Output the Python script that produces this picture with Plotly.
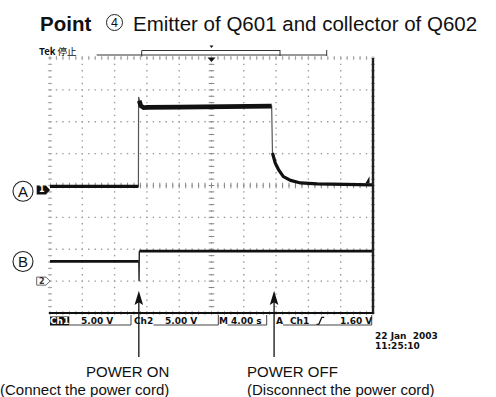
import plotly.graph_objects as go

# ---- waveform data (time in seconds, level in volts) ----
ch1_t = [0.0, 10.95, 10.97, 11.05, 11.25, 11.6, 12.0, 16.0, 20.0, 24.0, 27.45,
         27.55, 27.9, 28.3, 28.9, 29.8, 31.0, 33.1, 36.0, 39.9]
ch1_v = [0.55, 0.55, 14.6, 14.0, 13.2, 12.9, 12.95, 13.0, 13.05, 13.1, 13.15,
         5.8, 4.2, 3.2, 2.1, 1.5, 1.1, 0.95, 0.85, 0.8]

ch2_t = [0.0, 11.0, 11.03, 11.06, 39.9]
ch2_v = [3.1, 3.1, 0.0, 4.7, 4.7]

# scope settings
volts_per_div = [5.0, 5.0]
ch_position = [-0.14, -3.0]      # ground position in divisions
sec_per_div = 4.0
trigger_level = 1.60
power_on_t = 11.0
power_off_t = 27.75

# status-bar labels
status_ch1 = "5.00 V"
status_ch2 = "5.00 V"
status_time = "4.00 s"
status_trig = "1.60 V"
date_lines = ["22 Jan  2003", "11:25:10"]

# ---- layout geometry (pixels) ----
FW, FH = 496, 397
L, T, W, H = 50, 58, 323, 255


def px(x):
    return (x - L) / W


def py(y):
    return (T + H - y) / H


def div_y(ch, v):
    return v / volts_per_div[ch] + ch_position[ch]


def t_paper(t):
    return t / (10 * sec_per_div)


fig = go.Figure()

# ---- graticule ----
GRID = "#9a9a9a"
gx, gy = [], []
for i in range(10):
    for k in range(41):
        gx.append(i * sec_per_div)
        gy.append(-4 + k * 0.2)
for j in range(1, 9):
    for k in range(50):
        gx.append(k * 0.2 * sec_per_div)
        gy.append(-4 + j)
fig.add_trace(go.Scatter(x=gx, y=gy, mode="markers", cliponaxis=False,
                         marker=dict(symbol="square", size=1.4, color=GRID,
                                     line=dict(width=0)),
                         hoverinfo="skip", showlegend=False))

# tick marks on the centre cross
c_ns_x = [k * 0.2 * sec_per_div for k in range(51)]
c_ew_y = [-4 + k * 0.2 for k in range(41)]
fig.add_trace(go.Scatter(x=c_ns_x, y=[0] * len(c_ns_x), mode="markers",
                         marker=dict(symbol="line-ns", size=4,
                                     line=dict(width=1, color="#888")),
                         hoverinfo="skip", showlegend=False))
fig.add_trace(go.Scatter(x=[20] * len(c_ew_y), y=c_ew_y, mode="markers",
                         marker=dict(symbol="line-ew", size=4,
                                     line=dict(width=1, color="#888")),
                         hoverinfo="skip", showlegend=False))
# lighter ticks along the frame
e_ns_x, e_ns_y, e_ew_x, e_ew_y = [], [], [], []
for x in c_ns_x:
    for yy in (4, -4):
        e_ns_x.append(x)
        e_ns_y.append(yy)
for y in c_ew_y:
    for xx in (0, 40):
        e_ew_x.append(xx)
        e_ew_y.append(y)
fig.add_trace(go.Scatter(x=e_ns_x, y=e_ns_y, mode="markers", cliponaxis=False,
                         marker=dict(symbol="line-ns", size=3,
                                     line=dict(width=1, color="#aaa")),
                         hoverinfo="skip", showlegend=False))
fig.add_trace(go.Scatter(x=e_ew_x, y=e_ew_y, mode="markers", cliponaxis=False,
                         marker=dict(symbol="line-ew", size=3,
                                     line=dict(width=1, color="#aaa")),
                         hoverinfo="skip", showlegend=False))

# ---- channel 1 ----
y1 = [div_y(0, v) for v in ch1_v]
fig.add_trace(go.Scatter(x=ch1_t, y=y1, mode="lines",
                         line=dict(color="#555", width=1.2),
                         hoverinfo="skip", showlegend=False))
# heavier trace where the beam dwells: baseline, plateau, decay tail
for seg, w in [(slice(0, 2), 3.2), (slice(3, 11), 4.6), (slice(11, 20), 3.2)]:
    fig.add_trace(go.Scatter(x=ch1_t[seg], y=y1[seg], mode="lines",
                             line=dict(color="#111", width=w),
                             hoverinfo="skip", showlegend=False))

# ---- channel 2 ----
y2 = [div_y(1, v) for v in ch2_v]
fig.add_trace(go.Scatter(x=ch2_t[:2], y=y2[:2], mode="lines",
                         line=dict(color="#111", width=2.6),
                         hoverinfo="skip", showlegend=False))
fig.add_trace(go.Scatter(x=ch2_t[1:4], y=y2[1:4], mode="lines",
                         line=dict(color="#222", width=1.4),
                         hoverinfo="skip", showlegend=False))
fig.add_trace(go.Scatter(x=ch2_t[3:], y=y2[3:], mode="lines",
                         line=dict(color="#111", width=2.6),
                         hoverinfo="skip", showlegend=False))

shapes = []
ann = []


def line(x0, y0, x1, y1_, w=1.0, c="#222"):
    shapes.append(dict(type="line", xref="paper", yref="paper",
                       x0=px(x0), y0=py(y0), x1=px(x1), y1=py(y1_),
                       line=dict(color=c, width=w)))


def poly(pts, fill, lc=None, lw=0):
    d = "M " + " L ".join(f"{px(a):.5f},{py(b):.5f}" for a, b in pts) + " Z"
    shapes.append(dict(type="path", xref="paper", yref="paper", path=d,
                       fillcolor=fill, line=dict(color=lc or fill, width=lw)))


def text(x, y, s, size=9, color="#111", family="DejaVu Sans",
         anchor="center", bold=False):
    ann.append(dict(xref="paper", yref="paper", x=px(x), y=py(y),
                    text=f"<b>{s}</b>" if bold else s, showarrow=False,
                    xanchor=anchor, yanchor="middle",
                    font=dict(size=size, color=color, family=family)))


def circle(cx, cy, r, w=1.0):
    shapes.append(dict(type="circle", xref="paper", yref="paper",
                       x0=px(cx - r), x1=px(cx + r), y0=py(cy + r), y1=py(cy - r),
                       line=dict(color="#222", width=w)))


# frame: right and bottom edges are solid
line(373, T, 373, T + H + 1, 2.4, "#222")
line(49, T + H, 373, T + H, 1.8, "#111")

# ---- title ----
text(38, 23, "Point", 20.5, "#111", "Liberation Sans", "left", bold=True)
circle(114.5, 22.5, 8, 1.0)
text(114.6, 23, "4", 12.5, "#111", "Liberation Sans")
text(131, 23, "Emitter of Q601 and collector of Q602", 20.5, "#111",
     "Liberation Sans", "left")

# ---- header: Tek status and record-position bar ----
text(36.5, 51, "<b>Tek</b> 停止", 9.5, "#111", "Noto Sans CJK JP", "left")
line(96.7, 55, 326.7, 55, 1.0, "#333")
line(141.7, 50.5, 280, 50.5, 1.0, "#333")
line(141.7, 50.5, 141.7, 56.5, 1.0, "#333")
line(280, 50, 280, 56, 1.0, "#333")
line(326.7, 50, 326.7, 56, 1.0, "#333")
poly([(209.5, 45.5), (213.5, 45.5), (211.5, 48)], "#111")
poly([(207.5, 57.5), (215.5, 57.5), (211.5, 62)], "#111")

# ---- ground markers and trigger level ----
g1 = T + H * (4 - ch_position[0]) / 8
g2 = T + H * (4 - ch_position[1]) / 8
poly([(36.7, g1 - 4.5), (46, g1 - 4.5), (50, g1), (46, g1 + 4.5), (36.7, g1 + 4.5)], "#111")
text(41.5, g1, "<b>1</b>", 8, "white")
poly([(36.7, g2 - 4), (46, g2 - 4), (50, g2), (46, g2 + 4), (36.7, g2 + 4)],
     "white", "#666", 1)
text(41.8, g2, "<b>2</b>", 8, "#333")
trig_y = T + H * (4 - div_y(0, trigger_level)) / 8
poly([(365.5, trig_y + 3.5), (369.5, trig_y + 3.5), (369.5, trig_y - 3.5)], "#111")

# channel letters
circle(23, g1 + 1.3, 10, 1.1)
text(23, g1 + 1.6, "A", 15, "#111", "Liberation Sans")
circle(23, g2 - 19.6, 10, 1.1)
text(23, g2 - 19.3, "B", 15, "#111", "Liberation Sans")

# ---- status bar ----
SY = 321
shapes.append(dict(type="rect", xref="paper", yref="paper",
                   x0=px(50), x1=px(69.3), y0=py(325.5), y1=py(316.5),
                   fillcolor="#111", line=dict(width=0)))
text(59.6, SY, "<b>Ch1</b>", 9, "white")
text(96.5, SY, f"<b>{status_ch1}</b>", 9)
line(69.3, 325, 131, 325, 1, "#444")
line(131, 315, 131, 325, 1, "#444")
text(143.5, SY, "<b>Ch2</b>", 9)
text(180.5, SY, f"<b>{status_ch2}</b>", 9)
line(153.5, 325, 218.3, 325, 1, "#444")
line(218.3, 315, 218.3, 325, 1, "#444")
text(223.7, SY, "<b>M</b>", 9)
text(246.5, SY, f"<b>{status_time}</b>", 9)
line(227.5, 325, 266.7, 325, 1, "#444")
line(266.7, 315, 266.7, 325, 1, "#444")
text(279.3, SY, "<b>A</b>", 9)
text(299.5, SY, "<b>Ch1</b>", 9)
shapes.append(dict(type="path", xref="paper", yref="paper",
                   path=(f"M {px(316.5):.5f},{py(324.3):.5f} L {px(318.8):.5f},{py(324.3):.5f} "
                         f"L {px(321.8):.5f},{py(317.3):.5f} L {px(324.2):.5f},{py(317.3):.5f}"),
                   line=dict(color="#111", width=1.3)))
text(355.5, SY, f"<b>{status_trig}</b>", 9)
line(283, 325, 371.7, 325, 1, "#444")
line(371.7, 315, 371.7, 325, 1, "#444")
text(372.5, 336, f"<b>{date_lines[0]}</b>", 9, anchor="left")
text(372.5, 346.3, f"<b>{date_lines[1]}</b>", 9, anchor="left")

# ---- power on / off arrows ----
for t in (power_on_t, power_off_t):
    ax = L + W * t_paper(t)
    line(ax, 300, ax, 357, 1.3, "#111")
    poly([(ax, 290.8), (ax - 4.3, 305), (ax, 302.3), (ax + 4.3, 305)], "#111")

on_x = L + W * t_paper(power_on_t)
off_x = L + W * t_paper(power_off_t)
text(on_x + 32.5, 371.5, "POWER ON", 15, "#111", "Liberation Sans", "right")
text(on_x + 32.5, 389.5, "(Connect the power cord)", 15, "#111",
     "Liberation Sans", "right")
text(off_x - 29, 371.5, "POWER OFF", 15, "#111", "Liberation Sans", "left")
text(off_x - 29, 389.5, "(Disconnect the power cord)", 15, "#111",
     "Liberation Sans", "left")

fig.update_layout(
    width=FW, height=FH,
    margin=dict(l=L, r=FW - L - W, t=T, b=FH - T - H, pad=0),
    paper_bgcolor="white", plot_bgcolor="white",
    xaxis=dict(range=[0, 10 * sec_per_div], showgrid=False, zeroline=False,
               showticklabels=False, ticks="", showline=False, fixedrange=True),
    yaxis=dict(range=[-4, 4], showgrid=False, zeroline=False,
               showticklabels=False, ticks="", showline=False, fixedrange=True),
    shapes=shapes, annotations=ann, showlegend=False,
)

fig.write_html("out.html")
